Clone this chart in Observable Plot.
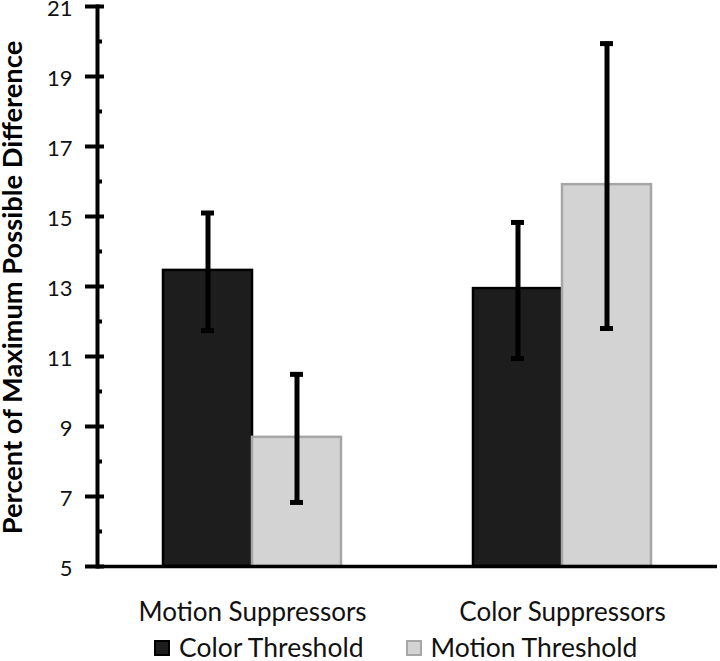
<!DOCTYPE html>
<html><head><meta charset="utf-8">
<script src="https://cdn.jsdelivr.net/npm/d3@7"></script>
<script src="https://cdn.jsdelivr.net/npm/@observablehq/plot@0.6"></script>
<style>
body{margin:0;background:#fff;font-family:Lato, sans-serif;overflow:hidden;}
#chart svg{overflow:visible;display:block;}
#legend{display:flex;align-items:center;box-sizing:border-box;height:33px;padding-top:6px;padding-left:154px;font-size:26.5px;line-height:1;color:#111;}
.item{display:flex;align-items:center;}
.sw{width:16px;height:16px;display:inline-block;margin-right:9px;box-sizing:border-box;}
</style></head><body>
<div id="chart"></div>
<div id="legend"></div>
<script>
const groups = ["Motion Suppressors", "Color Suppressors"];
const series = ["Color Threshold", "Motion Threshold"];
const colorThresholdMean = [13.46, 12.94];
const colorThresholdLow = [11.74, 10.94];
const colorThresholdHigh = [15.1, 14.83];
const motionThresholdMean = [8.69, 15.91];
const motionThresholdLow = [6.83, 11.8];
const motionThresholdHigh = [10.49, 19.94];
const yTicks = [5, 7, 9, 11, 13, 15, 17, 19, 21];
const yMinorTicks = [6, 8, 10, 12, 14, 16, 18, 20];
const yLabel = "Percent of Maximum Possible Difference";
const fills = ["#1d1d1d", "#d3d3d3"];
const strokes = ["#000000", "#a6a6a6"];

const data = [];
groups.forEach((g, i) => {
  data.push({group: g, series: series[0], mean: colorThresholdMean[i], lo: colorThresholdLow[i], hi: colorThresholdHigh[i]});
  data.push({group: g, series: series[1], mean: motionThresholdMean[i], lo: motionThresholdLow[i], hi: motionThresholdHigh[i]});
});
const si = d => series.indexOf(d.series);

const chart = Plot.plot({
  width: 720, height: 628,
  marginLeft: 96, marginRight: 3, marginTop: 6, marginBottom: 62,
  style: {fontFamily: "Lato, sans-serif", color: "#000", background: "#fff"},
  fx: {domain: groups, padding: 0, axis: null},
  x: {domain: series, paddingInner: 0, paddingOuter: 0.73, axis: null},
  y: {domain: [5, 21], axis: null},
  color: {type: "identity"},
  marks: [
    Plot.barY(data, {fx: "group", x: "series", y1: 5, y2: "mean",
      fill: d => fills[si(d)], stroke: d => strokes[si(d)], strokeWidth: 2.5}),
    Plot.ruleX(data, {fx: "group", x: "series", y1: "lo", y2: "hi", stroke: "#000", strokeWidth: 5}),
    Plot.tickY(data, {fx: "group", x: "series", y: "hi", stroke: "#000", strokeWidth: 5, insetLeft: 38, insetRight: 38}),
    Plot.tickY(data, {fx: "group", x: "series", y: "lo", stroke: "#000", strokeWidth: 5, insetLeft: 38, insetRight: 38}),
    Plot.ruleY([5], {stroke: "#000", strokeWidth: 3.5}),
    Plot.frame({anchor: "left", facetAnchor: "left", stroke: "#000", strokeWidth: 4}),
    Plot.axisY(yTicks, {tickSize: 19, dx: 7, stroke: "#000", strokeWidth: 4, tickFormat: () => "", label: null}),
    Plot.axisY(yMinorTicks, {tickSize: 5, dx: 5, stroke: "#000", strokeWidth: 4, tickFormat: () => "", label: null}),
    Plot.axisY(yTicks, {tickSize: 0, tickPadding: 25, dy: 2, fontSize: 22, fill: "#111", label: null}),
    Plot.axisFx({anchor: "bottom", tickSize: 0, tickPadding: 36, fontSize: 26, fill: "#111", label: null}),
    Plot.text([yLabel], {text: d => d, frameAnchor: "left", textAnchor: "middle", rotate: -90, dx: -84, dy: 1, fontSize: 27.3, fontWeight: "bold", fill: "#000", facetAnchor: "left"})
  ]
});
document.getElementById("chart").appendChild(chart);

const legend = document.getElementById("legend");
series.forEach((s, i) => {
  const item = document.createElement("div");
  item.className = "item";
  item.style.marginRight = i === 0 ? "42px" : "0";
  const sw = document.createElement("span");
  sw.className = "sw";
  sw.style.background = fills[i];
  sw.style.border = `2px solid ${strokes[i]}`;
  item.appendChild(sw);
  item.appendChild(document.createTextNode(s));
  legend.appendChild(item);
});
</script>
</body></html>
